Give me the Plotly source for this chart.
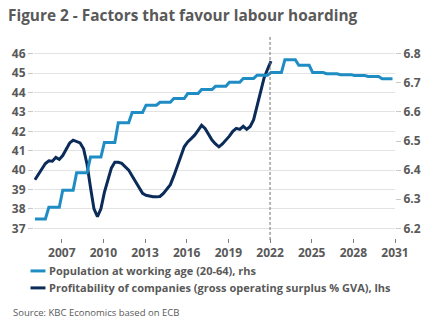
import plotly.graph_objects as go

# ---------------- data ----------------
pop_years = list(range(2005, 2031))
pop_values = [6.232, 6.272, 6.331, 6.391, 6.445, 6.495, 6.563, 6.598, 6.623, 6.633,
              6.646, 6.663, 6.677, 6.688, 6.702, 6.715, 6.726, 6.735, 6.779, 6.760,
              6.735, 6.731, 6.728, 6.725, 6.722, 6.714]

prof_start_year = 2005
prof_values = [39.5, 39.8, 40.1, 40.34, 40.48, 40.46, 40.65, 40.55,
               40.75, 41.05, 41.4, 41.54, 41.47, 41.40, 41.1, 40.3,
               39.1, 38.0, 37.6, 38.0, 38.85, 39.5, 40.1, 40.4,
               40.4, 40.35, 40.15, 40.0, 39.7, 39.4, 39.15, 38.8,
               38.7, 38.66, 38.63, 38.62, 38.64, 38.8, 39.0, 39.25,
               39.7, 40.15, 40.7, 41.2, 41.45, 41.62, 41.8, 42.05,
               42.31, 42.15, 41.85, 41.55, 41.35, 41.2, 41.35, 41.54,
               41.75, 42.0, 42.15, 42.1, 42.26, 42.1, 42.25, 42.6,
               43.3, 44.1, 44.75, 45.2, 45.62]

x_ticks = list(range(2007, 2032, 3))
left_ticks = list(range(37, 47))
right_ticks = [6.2, 6.3, 6.4, 6.5, 6.6, 6.7, 6.8]
marker_year = 2022

pop_name = "Population at working age (20-64), rhs"
prof_name = "Profitability of companies (gross operating surplus % GVA), lhs"
title_text = "Figure 2 - Factors that favour labour hoarding"
source_text = "Source: KBC Economics based on ECB"

# quarterly positions (annual population values held for each quarter)
Q_OFF = 0.07
pop_x, pop_y = [], []
for yr, v in zip(pop_years, pop_values):
    for q in range(4):
        pop_x.append(yr + Q_OFF + q * 0.25)
        pop_y.append(v)
prof_x = [prof_start_year + Q_OFF + i * 0.25 for i in range(len(prof_values))]

# ---------------- layout geometry ----------------
W, H = 432, 332
PL, PR, PT, PB = 33.5, 395.5, 43.6, 238.0
pw, ph = PR - PL, PB - PT


def px_x(x):
    return (x - PL) / pw


def px_y(y):
    return (PB - y) / ph


BLUE = "#1f8dc4"
NAVY = "#0b2b59"
GREY = "#595959"
FONT = "Open Sans"

fig = go.Figure()
fig.add_trace(go.Scatter(x=pop_x, y=pop_y, name=pop_name, mode="lines",
                         line=dict(color=BLUE, width=3), yaxis="y2"))
fig.add_trace(go.Scatter(x=prof_x, y=prof_values, name=prof_name, mode="lines",
                         line=dict(color=NAVY, width=3), yaxis="y"))

fig.add_shape(type="line", xref="x", yref="paper", x0=marker_year, x1=marker_year,
              y0=-0.01, y1=1.04, line=dict(color="#6f6f6f", width=1, dash="3px,2px"))

# legend (drawn as key lines + text)
legend_items = [(pop_name, BLUE, 271), (prof_name, NAVY, 288)]
for name, color, ypx in legend_items:
    fig.add_shape(type="line", xref="paper", yref="paper",
                  x0=px_x(30), x1=px_x(45), y0=px_y(ypx), y1=px_y(ypx),
                  line=dict(color=color, width=3))
    fig.add_annotation(text="<b>" + name + "</b>", xref="paper", yref="paper",
                       x=px_x(47), y=px_y(ypx), xanchor="left", yanchor="middle",
                       showarrow=False,
                       font=dict(family=FONT, size=11, color=GREY))

fig.add_annotation(text=source_text, xref="paper", yref="paper",
                   x=px_x(10), y=px_y(313), xanchor="left", yanchor="middle",
                   showarrow=False, font=dict(family=FONT, size=9.5, color=GREY))

fig.update_layout(
    width=W, height=H,
    margin=dict(l=PL, r=W - PR, t=PT, b=H - PB),
    paper_bgcolor="white", plot_bgcolor="white",
    title=dict(text="<b>" + title_text + "</b>", x=8 / W, xanchor="left",
               y=1 - 16 / H, yanchor="middle",
               font=dict(family=FONT, size=15.4, color=GREY)),
    showlegend=False,
    xaxis=dict(range=[2005.0, 2031.0], tickvals=x_ticks, showgrid=False,
               zeroline=False, showline=False, ticks="outside", ticklen=4,
               tickcolor="#7f7f7f",
               tickfont=dict(family=FONT, size=12, color=GREY, weight="bold")),
    yaxis=dict(range=[36.5, 46.5], tickvals=left_ticks, showgrid=True,
               gridcolor="#e3e3e3", gridwidth=1, zeroline=False, showline=False,
               ticks="outside", ticklen=5, tickcolor="#c8c8c8",
               tickfont=dict(family=FONT, size=12, color=GREY, weight="bold")),
    yaxis2=dict(range=[6.2 - 0.5 / 15, 6.8 + 0.5 / 15], tickvals=right_ticks,
                tickformat=".1f", overlaying="y", side="right", showgrid=False,
                zeroline=False, showline=False, ticks="outside", ticklen=5,
                tickcolor="#c8c8c8",
                tickfont=dict(family=FONT, size=12, color=GREY, weight="bold")),
)

fig.write_html("out.html")
